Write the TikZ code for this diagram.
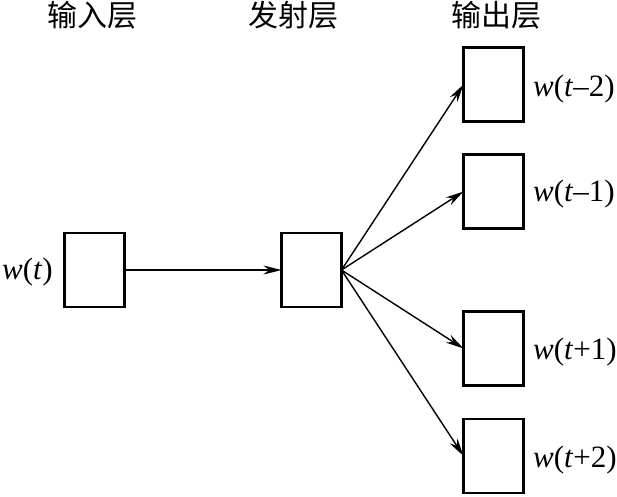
\documentclass[tikz,border=0pt]{standalone}
\usepackage{fontspec}
\setmainfont{Liberation Serif}
\newfontfamily\cjk{Noto Sans CJK SC}
\usetikzlibrary{arrows.meta}
\begin{document}
\begin{tikzpicture}[x=1pt,y=-1pt,
  box/.style={draw,line width=2.6pt,minimum width=60pt,minimum height=74pt,inner sep=0pt,outer sep=0pt},
  title/.style={font=\cjk\fontsize{30}{32}\selectfont,inner sep=0pt},
  lab/.style={font=\fontsize{31}{34}\selectfont,inner sep=0pt},
  conn/.style={line width=1.4pt,-{Stealth[length=18pt,width=9pt]}}]
\useasboundingbox (0,0) rectangle (617,496);
\node[title] (t1) at (92,15) {输入层};
\node[title] (t2) at (293,15) {发射层};
\node[title] (t3) at (496,15) {输出层};
\node[box] (in) at (94.5,270) {};
\node[box] (em) at (311.5,270) {};
\node[box] (o1) at (493.5,84.5) {};
\node[box] (o2) at (493.5,191.5) {};
\node[box] (o3) at (493.5,348.5) {};
\node[box] (o4) at (493.5,456) {};
\node[lab,anchor=east] (lin) at (53,272) {\textit{w}(\textit{t})};
\node[lab,anchor=west] (l1) at (533,89) {\textit{w}(\textit{t}–2)};
\node[lab,anchor=west] (l2) at (533,194) {\textit{w}(\textit{t}–1)};
\node[lab,anchor=west] (l3) at (533,352) {\textit{w}(\textit{t}+1)};
\node[lab,anchor=west] (l4) at (533,460) {\textit{w}(\textit{t}+2)};
\draw[conn] (in.east) -- (em.west);
\draw[conn] (em.east) -- (o1.west);
\draw[conn] (em.east) -- (o2.west);
\draw[conn] (em.east) -- (o3.west);
\draw[conn] (em.east) -- (o4.west);
\end{tikzpicture}
\end{document}
